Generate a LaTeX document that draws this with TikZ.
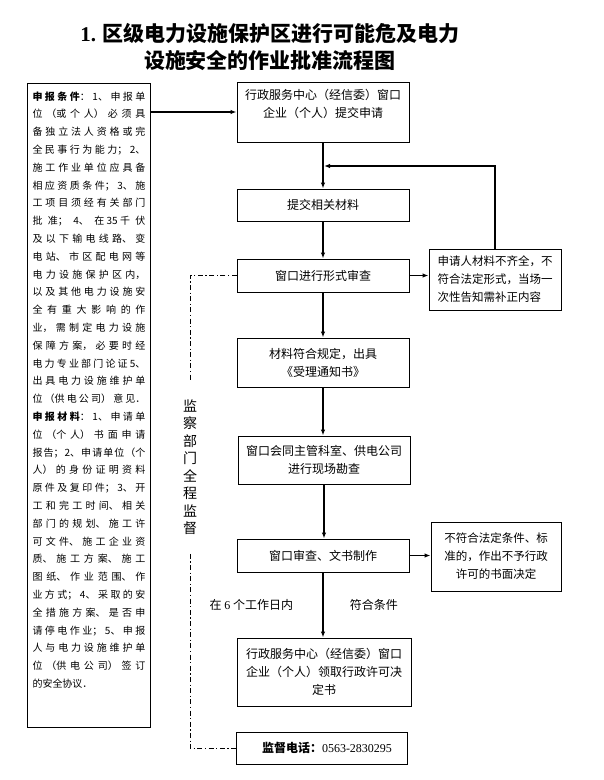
\documentclass[tikz,border=0pt]{standalone}
\usepackage{fontspec}
\setmainfont{Noto Sans CJK SC}
\newfontfamily\numfont{Liberation Serif}
\usepackage{tikz}
\usetikzlibrary{arrows.meta,positioning,calc}

\newcommand{\flowfont}{\fontsize{12pt}{18pt}\selectfont}
\newcommand{\sidefont}{\fontsize{11.5pt}{18pt}\selectfont}
\newcommand{\notefont}{\fontsize{10pt}{17.8pt}\selectfont}
\newcommand{\vertfont}{\fontsize{14pt}{17.5pt}\selectfont}
\newcommand{\headfont}{\fontsize{21pt}{27pt}\selectfont\bfseries}

\begin{document}
\begin{tikzpicture}[x=1pt, y=-1pt,
  every node/.style={font=\flowfont},
  flowbox/.style={draw, line width=1pt, minimum width=172pt,
                  align=center, inner sep=2pt},
  sidebox/.style={draw, line width=1pt, minimum width=132pt,
                  inner sep=2pt, font=\sidefont},
  arrow/.style={-{Latex[length=6pt,width=4.5pt]}, line width=1.1pt},
  watch/.style={line width=0.9pt,
                dash pattern=on 5pt off 2.5pt on 1.2pt off 2.5pt},
]
\useasboundingbox (0,0) rectangle (604,780);

%% ── Title ──────────────────────────────────────────────────────────────────
\node[font=\headfont, align=center] (title) at (270,46.5)
  {{\numfont 1.} 区级电力设施保护区进行可能危及电力\\设施安全的作业批准流程图};

%% ── Conditions and materials ───────────────────────────────────────────────
\node[draw, line width=1pt, anchor=north west, text width=113pt,
      inner xsep=5pt, inner ysep=8pt, align=justify, font=\notefont]
  (cond) at (27,83)
  {\XeTeXlinebreaklocale "zh"\XeTeXlinebreakskip=0pt plus 1fil
   \parfillskip=0pt plus 1fill
   \textbf{申报条件}：1、申报单\linebreak
   位（或个人）必须具\linebreak
   备独立法人资格或完\linebreak
   全民事行为能力；2、\linebreak
   施工作业单位应具备\linebreak
   相应资质条件；3、施\linebreak
   工项目须经有关部门\linebreak
   批准；4、在 35 千伏\linebreak
   及以下输电线路、变\linebreak
   电站、市区配电网等\linebreak
   电力设施保护区内，\linebreak
   以及其他电力设施安\linebreak
   全有重大影响的作\linebreak
   业，需制定电力设施\linebreak
   保障方案，必要时经\linebreak
   电力专业部门论证 5、\linebreak
   出具电力设施维护单\linebreak
   位（供电公司）意见．\linebreak
   \textbf{申报材料}：1、申请单\linebreak
   位（个人）书面申请\linebreak
   报告；2、申请单位（个\linebreak
   人）的身份证明资料\linebreak
   原件及复印件；3、开\linebreak
   工和完工时间、相关\linebreak
   部门的规划、施工许\linebreak
   可文件、施工企业资\linebreak
   质、施工方案、施工\linebreak
   图纸、作业范围、作\linebreak
   业方式；4、采取的安\linebreak
   全措施方案、是否申\linebreak
   请停电作业；5、申报\linebreak
   人与电力设施维护单\linebreak
   位（供电公司）签订\linebreak
   的安全协议．\par\vspace*{31pt}\hrule height 0pt};

%% ── Main flow ──────────────────────────────────────────────────────────────
\node[flowbox, minimum height=60pt] (apply)  at (323,112)
  {行政服务中心（经信委）窗口\\企业（个人）提交申请\\\mbox{}};
\node[flowbox, minimum height=32pt] (submit) at (323,205) {提交相关材料};
\node[flowbox, minimum height=33pt] (check)  at (323,275.5) {窗口进行形式审查};
\node[flowbox, minimum height=49pt] (accept) at (323,362.5)
  {材料符合规定，出具\\《受理通知书》};
\node[flowbox, minimum height=48pt] (survey) at (324,460)
  {窗口会同主管科室、供电公司\\进行现场勘查};
\node[flowbox, minimum height=33pt] (review) at (323,555.5) {窗口审查、文书制作};
\node[flowbox, minimum width=174pt, minimum height=68pt] (permit) at (324,672)
  {行政服务中心（经信委）窗口\\企业（个人）领取行政许可决\\定书};
\node[flowbox, minimum width=171pt, minimum height=32pt] (phone) at (321.5,748)
  {\hspace*{11pt}\textbf{监督电话：}{\numfont 0563-2830295}};

%% ── Side boxes ─────────────────────────────────────────────────────────────
\node[sidebox, minimum height=61pt, align=left] (notice) at (495,279.5)
  {申请人材料不齐全，不\\符合法定形式，当场一\\次性告知需补正内容};
\node[sidebox, minimum width=130pt, minimum height=69pt, align=center]
  (reject) at (496,556.5)
  {不符合法定条件、标\\准的，作出不予行政\\许可的书面决定};

%% ── Connectors ─────────────────────────────────────────────────────────────
\coordinate (loop) at (324,166);
\draw[arrow] (cond.east |- apply.west) -- (apply.west);
\draw[arrow] (apply.south) -- (apply.south |- submit.north);
\draw[arrow] (submit.south) -- (submit.south |- check.north);
\draw[arrow] (check.south) -- (check.south |- accept.north);
\draw[arrow] (accept.south) -- (accept.south |- survey.north);
\draw[arrow] (survey.south) -- (survey.south |- review.north);
\draw[arrow] (review.south) -- (review.south |- permit.north)
  node[midway, left=26pt] {在 {\numfont 6} 个工作日内}
  node[midway, right=23pt] {符合条件};
\draw[arrow] (check.east) -- (check.east -| notice.west);
\draw[arrow] (review.east) -- (review.east -| reject.west);
\draw[arrow] (notice.north) |- (loop);

%% ── Supervision line ───────────────────────────────────────────────────────
\coordinate (watchx) at (190,467);
\draw[watch] (check.west) -| (watchx) |- (phone.west);
\node[fill=white, inner xsep=3pt, inner ysep=18pt, align=center,
      font=\vertfont] (watchlabel) at (watchx)
  {监\\察\\部\\门\\全\\程\\监\\督};

\end{tikzpicture}
\end{document}
